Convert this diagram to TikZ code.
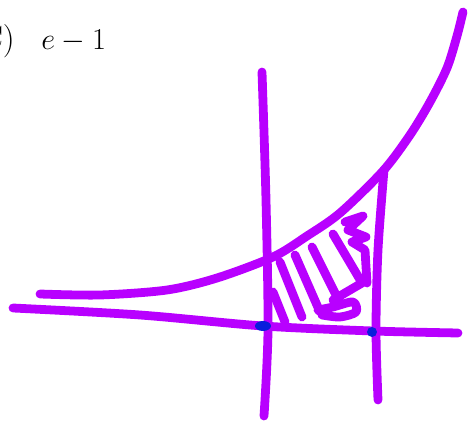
\documentclass[tikz,border=0pt]{standalone}
\definecolor{pen}{RGB}{184,0,255}
\definecolor{dot}{RGB}{10,30,220}
\begin{document}
\begin{tikzpicture}[x=0.02cm,y=-0.02cm,
  ink/.style={pen, line width=5pt, line cap=round, line join=round},
  big/.style={inner sep=0pt, font=\fontsize{19}{22}\selectfont}]
  \useasboundingbox (0,0) rectangle (468,425);
  \node[big, anchor=base east] (lbl) at (15,50) {(C)};
  \node[big, anchor=base west] (ans) at (41,50) {$e-1$};
  % axis and the two verticals
  \draw[ink] plot[smooth] coordinates {(13,308)(140,315)(263,326)(373,331)(458,333)};
  \draw[ink] plot[smooth] coordinates {(262,72)(266,200)(268,330)(264,416)};
  \draw[ink] plot[smooth] coordinates {(384,170)(378,250)(376,330)(378,400)};
  % the curve
  \draw[ink] plot[smooth] coordinates {(40,294)(100,295)(167,290)(217,278)(273,257)(307,236)(340,213)(383,171)(410,135)(430,102)(447,68)(457,36)(463,12)};
  % shading
  \draw[ink] (273,292) -- (285,322);
  \draw[ink] (280,262) -- (302,317);
  \draw[ink] (295,255) -- (320,312);
  \draw[ink] (312,247) -- (340,303);
  \draw[ink] (333,234) -- (362,283) -- (333,300);
  \draw[ink] (345,222) -- (363,216) -- (348,230) -- (366,237) -- (352,242) -- (365,250) -- (367,283);
  \draw[ink] plot[smooth] coordinates {(318,310)(333,307)(353,302)(356,312)(340,317)(322,315)};
  % points on the axis
  \fill[dot] (263,326) ellipse (8 and 5);
  \fill[dot] (372,332) circle (5);
\end{tikzpicture}
\end{document}
